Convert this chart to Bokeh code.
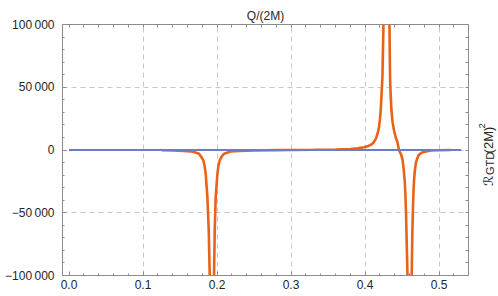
import math
from bokeh.plotting import figure
from bokeh.models import Range1d, LinearAxis, FixedTicker, Grid, Label
from bokeh.layouts import row
from bokeh.embed import file_html
from bokeh.resources import INLINE

nan = float("nan")

# ---------------- data ----------------
blue_x = [0.0, 0.1, 0.2, 0.3, 0.4, 0.5, 0.53]
blue_y = [0, 0, 0, 0, 0, 0, 0]

# orange curve, segments separated by NaN (poles near 0.193, 0.429, 0.460)
orange_x = [0.125, 0.14, 0.155, 0.165, 0.1689, 0.1757, 0.1785, 0.1816, 0.1833, 0.1847, 0.187, 0.1888, 0.1901, 0.1906, nan,
            0.1955, 0.196, 0.1969, 0.1982, 0.2005, 0.2018, 0.2036, 0.2060, 0.2095, 0.2185, 0.23, 0.25, 0.28, 0.30, 0.33,
            0.36, 0.38, 0.39, 0.3986, 0.4035, 0.4077, 0.411, 0.4145, 0.4168, 0.4189, 0.4200, 0.4212, 0.4235, 0.4249, 0.4254, nan,
            0.4325, 0.433, 0.4338, 0.4347, 0.4357, 0.4372, 0.4392, 0.4415, 0.4438, 0.446, 0.4483, 0.4505, 0.452,
            0.4536, 0.4546, 0.4554, 0.4573, 0.4578, nan,
            0.4626, 0.4631, 0.464, 0.4649, 0.4655, 0.4662, 0.4672, 0.4685, 0.470, 0.4721, 0.4745, 0.4776, 0.4888, 0.50, 0.5158]
orange_y = [-150, -350, -700, -1200, -1600, -3000, -5300, -8400, -13000, -19000, -37600, -64000, -98700, -130000, nan,
            -130000, -98700, -64000, -37600, -19000, -13000, -8400, -5500, -3000, -1200, -700, -350, -100, 0, 150,
            400, 800, 1300, 2200, 3000, 4100, 5600, 8900, 12800, 18200, 24000, 31500, 58000, 100000, 130000, nan,
            130000, 100000, 58000, 43000, 31500, 22000, 15500, 10000, 6200, -400, -3000, -7000, -14000,
            -24300, -36000, -50800, -98700, -130000, nan,
            -130000, -98700, -64000, -42900, -33000, -24300, -17000, -11000, -7500, -4400, -3000, -1800, -400, -150, 0]

x_tick_labels = ["0.0", "0.1", "0.2", "0.3", "0.4", "0.5"]
y_tick_values = [-100000, -50000, 0, 50000, 100000]
y_tick_labels = ["\u2212100\u2009000", "\u221250\u2009000", "0", "50\u2009000", "100\u2009000"]

title_text = "Q/(2M)"
ylabel_parts = ["\u211b", "GTD", "(2M)", "2"]   # script R, subscript, body, superscript

# ---------------- layout ----------------
X0, X1 = -0.0088, 0.5398
Y0, Y1 = -100000, 100000
W_MAIN, W_SIDE, H = 472, 26, 296

FONT = "Liberation Sans"
FRAME_COL = "#8c8c8c"
LABEL_COL = "#262626"

p = figure(width=W_MAIN, height=H, x_range=Range1d(X0, X1), y_range=Range1d(Y0, Y1),
           output_backend="svg", toolbar_location=None,
           x_axis_type=None, y_axis_type=None,
           min_border_left=62, min_border_right=4, min_border_top=24, min_border_bottom=21)
p.outline_line_color = None
p.background_fill_color = "white"
p.border_fill_color = "white"

p.title.text = title_text
p.title.align = "center"
p.title.text_font = FONT
p.title.text_font_size = "12px"
p.title.text_font_style = "normal"
p.title.text_color = LABEL_COL
p.title.standoff = 4

x_ticks = [float(s) for s in x_tick_labels]
x_minor = [round(0.02 * i, 4) for i in range(0, 28)]
y_minor = list(range(-100000, 100001, 10000))

def style_axis(ax):
    ax.axis_line_color = FRAME_COL
    ax.axis_line_width = 1
    ax.major_tick_line_color = FRAME_COL
    ax.minor_tick_line_color = FRAME_COL
    ax.major_tick_in = 4
    ax.major_tick_out = 0
    ax.minor_tick_in = 2
    ax.minor_tick_out = 0
    ax.major_label_text_font = FONT
    ax.major_label_text_color = LABEL_COL
    ax.major_label_text_font_size = "12px"

xb = LinearAxis(ticker=FixedTicker(ticks=x_ticks, minor_ticks=x_minor))
style_axis(xb)
xb.major_label_standoff = 4
xb.major_label_overrides = {t: s for t, s in zip(x_ticks, x_tick_labels)}
p.add_layout(xb, "below")

yl = LinearAxis(ticker=FixedTicker(ticks=y_tick_values, minor_ticks=y_minor))
style_axis(yl)
yl.major_label_standoff = 8
yl.major_label_overrides = {t: s for t, s in zip(y_tick_values, y_tick_labels)}
p.add_layout(yl, "left")

# mirrored frame sides: ticks only, no labels at all
xt = LinearAxis(ticker=FixedTicker(ticks=[], minor_ticks=x_minor))
style_axis(xt)
xt.minor_tick_in = 3
p.add_layout(xt, "above")

yr = LinearAxis(ticker=FixedTicker(ticks=[], minor_ticks=y_minor))
style_axis(yr)
yr.minor_tick_in = 3
p.add_layout(yr, "right")

gx = Grid(dimension=0, ticker=FixedTicker(ticks=x_ticks[1:]))
gy = Grid(dimension=1, ticker=FixedTicker(ticks=[-50000, 0, 50000]))
for g in (gx, gy):
    g.grid_line_color = "#c8c8c8"
    g.grid_line_dash = "5 4"
    g.grid_line_width = 1
    p.add_layout(g)

p.line(orange_x, orange_y, line_color="#E8621A", line_width=2.6)
p.line(blue_x, blue_y, line_color="#6B7CC8", line_width=2)

# ---------------- side strip holding the rotated label ----------------
side = figure(width=W_SIDE, height=H, x_range=Range1d(0, W_SIDE), y_range=Range1d(0, H),
              output_backend="svg", toolbar_location=None,
              x_axis_type=None, y_axis_type=None,
              min_border_left=0, min_border_right=0, min_border_top=0, min_border_bottom=0)
side.outline_line_color = None
side.xgrid.visible = False
side.ygrid.visible = False
side.background_fill_color = "white"
side.border_fill_color = "white"

# (baseline x on page, start y on page, size, font)
placement = [(487.5, 190.5, "13px", "DejaVu Sans"),
             (489.0, 177.5, "11px", FONT),
             (487.5, 152.0, "13px", FONT),
             (481.0, 122.5, "9.5px", FONT)]
for txt, (px, py, fs, fnt) in zip(ylabel_parts, placement):
    side.add_layout(Label(x=px - W_MAIN, y=H - py, text=txt, angle=math.pi / 2,
                          text_align="left", text_baseline="alphabetic",
                          text_font=fnt, text_font_size=fs, text_color=LABEL_COL))

layout = row(p, side, spacing=0)
open("out.html", "w").write(file_html(layout, INLINE))
